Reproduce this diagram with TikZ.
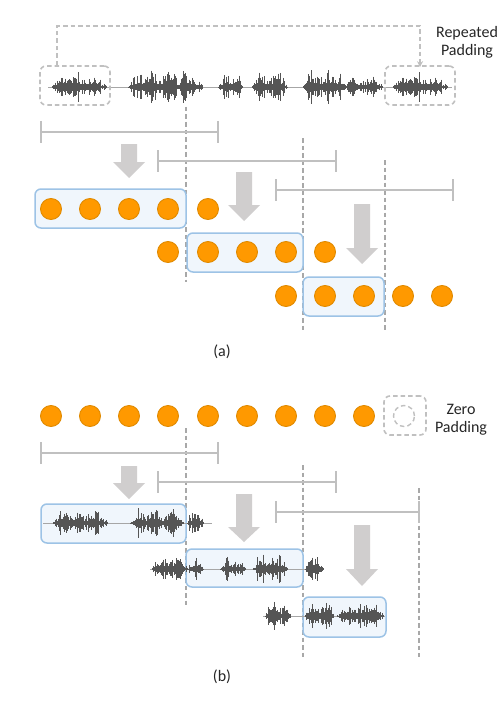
\documentclass[tikz,border=0pt]{standalone}
\usepackage{fontspec}
\setmainfont{Carlito}
\usetikzlibrary{arrows.meta,calc}
\definecolor{dotfill}{HTML}{FF9900}
\definecolor{dotdraw}{HTML}{E08A00}
\definecolor{boxfill}{HTML}{F0F6FC}
\definecolor{boxdraw}{HTML}{9DC3E6}
\definecolor{lgray}{HTML}{C0C0C0}
\definecolor{dgray}{HTML}{A8A8A8}
\definecolor{afill}{HTML}{D0CECE}
\definecolor{wavec}{HTML}{555555}
\newcommand\wseg[5]{%
  \pgfmathsetseed{#5}%
  \pgfmathtruncatemacro\wn{(#2-#1)/1.0}%
  \pgfmathsetmacro\wst{180/\wn}%
  \foreach \i in {0,...,\wn}{%
    \pgfmathsetmacro\wx{#1+\i*1.0}%
    \pgfmathsetmacro\wr{rnd}%
    \pgfmathsetmacro\wh{#4*(0.2+0.8*\wr*(0.4+0.6*\wr))*min(1,0.15+2.2*abs(sin(\wst*\i)))*(0.5+0.5*abs(sin(\i*11)))}%
    \draw[wave] (\wx,#3-\wh) -- (\wx,#3+\wh);
  }}
\newcommand\barrow[4]{%
  \fill[afill] (#1-8,#2) -- (#1+8,#2) -- (#1+8,#3) -- (#1+16,#3) -- (#1,#4) -- (#1-16,#3) -- (#1-8,#3) -- cycle;}
\newcommand\brk[3]{%
  \draw[brk] (#1,#3-11) -- (#1,#3+11) (#1,#3) -- (#2,#3) (#2,#3-11) -- (#2,#3+11);}
\tikzset{
  dot/.style={circle,minimum size=21pt,inner sep=0pt,fill=dotfill,draw=dotdraw,line width=0.9pt},
  bluebox/.style={rectangle,rounded corners=6pt,fill=boxfill,draw=boxdraw,line width=1.5pt,inner sep=0pt},
  padbox/.style={rectangle,rounded corners=6pt,draw=lgray,dash pattern=on 4.5pt off 3pt,line width=1.6pt,inner sep=0pt},
  padline/.style={draw=lgray,dash pattern=on 4.5pt off 3pt,line width=1.6pt},
  vdash/.style={draw=dgray,dash pattern=on 4.5pt off 3pt,line width=1.3pt},
  brk/.style={draw=lgray,line width=1.7pt},
  wave/.style={draw=wavec,line width=0.65pt},
  waveline/.style={draw=gray!70,line width=0.6pt},
  lbl/.style={font=\fontsize{16}{18}\selectfont,text=black!85,align=center,inner sep=0pt},
}
\begin{document}
\begin{tikzpicture}[x=1pt,y=-1pt]
\useasboundingbox[fill=white] (0,0) rectangle (502,706);
% ================= (a) =================
\draw[waveline] (48,87) -- (452,87);
\wseg{52}{106}{87}{16}{11}
\wseg{128}{202}{87}{17}{12}
\wseg{218}{242}{87}{13}{13}
\wseg{252}{287}{87}{16}{14}
\wseg{303}{345}{87}{17}{15}
\wseg{345}{382}{87}{12}{16}
\wseg{393}{447}{87}{16}{11}
\node[padbox,minimum width=70pt,minimum height=39pt] (lp) at (75,85.5) {};
\node[padbox,minimum width=70pt,minimum height=39pt] (rp) at (420,85.5) {};
\draw[padline,-{Stealth[length=6pt,width=6pt]}] ([xshift=-18pt]lp.north) -- ++(0,-39) -| ([yshift=-2pt]rp.north);
\node[lbl] (reptxt) at (467,42) {Repeated\\Padding};
% vertical dashed
\draw[vdash] (186,107) -- (186,282);
\draw[vdash] (303,138) -- (303,330);
\draw[vdash] (385,160) -- (385,330);
% brackets
\brk{41}{218}{132}
\brk{158}{336}{161}
\brk{276}{453}{190}
% arrows
\barrow{129}{144}{162}{178}
\barrow{244}{172}{205}{221}
\barrow{362}{204}{248}{264}
% boxes
\node[bluebox,minimum width=151pt,minimum height=39pt] (ab1) at (110.5,208.5) {};
\node[bluebox,minimum width=116pt,minimum height=39pt] (ab2) at (245,252.5) {};
\node[bluebox,minimum width=81pt,minimum height=39pt] (ab3) at (343.5,296.5) {};
% dots
\foreach \n/\x in {1/51,2/90,3/129,4/168,5/208}{\node[dot] (ra\n) at (\x,209) {};}
\foreach \n/\x in {1/168,2/208,3/247,4/286,5/325}{\node[dot] (rb\n) at (\x,252) {};}
\foreach \n/\x in {1/286,2/325,3/364,4/403,5/442}{\node[dot] (rc\n) at (\x,296) {};}
\node[lbl] (lbla) at (222,352) {(a)};
% ================= (b) =================
\foreach \n/\x in {1/51,2/90,3/129,4/168,5/208,6/247,7/286,8/325,9/364}{\node[dot] (z\n) at (\x,416) {};}
\node[padbox,minimum width=42pt,minimum height=39pt] (zp) at (405,415.5) {};
\node[circle,draw=lgray,dash pattern=on 4.5pt off 3pt,line width=1.4pt,minimum size=21pt,inner sep=0pt] (zc) at (404,416) {};
\node[lbl] (zerotxt) at (461,419.5) {Zero\\Padding};
% vertical dashed
\draw[vdash] (186,428) -- (186,605);
\draw[vdash] (303,465) -- (303,657);
\draw[vdash] (419,488) -- (419,657);
% brackets
\brk{41}{218}{453}
\brk{158}{336}{482}
\brk{276}{419}{512}
% arrows
\barrow{129}{466}{483}{499}
\barrow{244}{494}{527}{542}
\barrow{362}{525}{569}{586}
% boxes
\node[bluebox,minimum width=145pt,minimum height=39pt] (bb1) at (113.5,523.5) {};
\node[bluebox,minimum width=117pt,minimum height=38pt] (bb2) at (244.5,568) {};
\node[bluebox,minimum width=83pt,minimum height=40pt] (bb3) at (344.5,617) {};
% waves
\draw[waveline] (43,523) -- (212,523);
\wseg{53}{107}{523}{14}{21}
\wseg{130}{183}{523}{15}{22}
\wseg{187}{203}{523}{12}{23}
\draw[waveline] (150,569) -- (323,569);
\wseg{152}{187}{569}{15}{24}
\wseg{188}{203}{569}{12}{25}
\wseg{220}{245}{569}{13}{26}
\wseg{253}{287}{569}{15}{27}
\wseg{305}{323}{569}{14}{28}
\draw[waveline] (263,616) -- (385,616);
\wseg{265}{290}{616}{15}{29}
\wseg{305}{333}{616}{17}{30}
\wseg{337}{383}{616}{14}{31}
\node[lbl] (lblb) at (222,677) {(b)};
\end{tikzpicture}
\end{document}
